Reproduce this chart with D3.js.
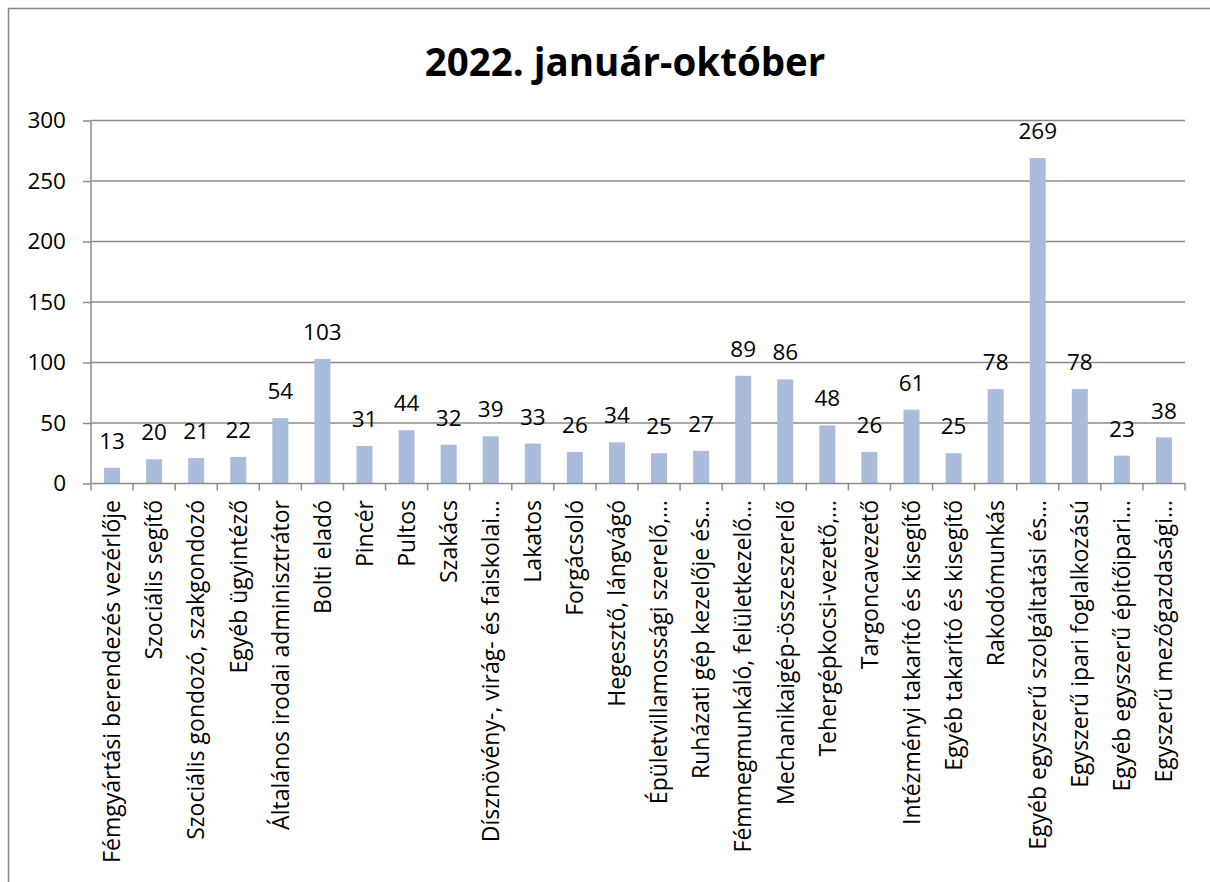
<!DOCTYPE html>
<html><head><meta charset="utf-8">
<script src="https://cdn.jsdelivr.net/npm/d3@7"></script>
<style>body{margin:0;background:#fff}svg{display:block}</style>
</head><body>
<svg id="c" width="1210" height="882"></svg>
<script>
const title = "2022. január-október";
const categories = [
  "Fémgyártási berendezés vezérlője",
  "Szociális segítő",
  "Szociális gondozó, szakgondozó",
  "Egyéb ügyintéző",
  "Általános irodai adminisztrátor",
  "Bolti eladó",
  "Pincér",
  "Pultos",
  "Szakács",
  "Dísznövény-, virág- és faiskolai…",
  "Lakatos",
  "Forgácsoló",
  "Hegesztő, lángvágó",
  "Épületvillamossági szerelő,…",
  "Ruházati gép kezelője és…",
  "Fémmegmunkáló, felületkezelő…",
  "Mechanikaigép-összeszerelő",
  "Tehergépkocsi-vezető,…",
  "Targoncavezető",
  "Intézményi takarító és kisegítő",
  "Egyéb takarító és kisegítő",
  "Rakodómunkás",
  "Egyéb egyszerű szolgáltatási és…",
  "Egyszerű ipari foglalkozású",
  "Egyéb egyszerű építőipari…",
  "Egyszerű mezőgazdasági…"
];
const values = [13,20,21,22,54,103,31,44,32,39,33,26,34,25,27,89,86,48,26,61,25,78,269,78,23,38];
const yTicks = [0,50,100,150,200,250,300];

(function(){
const svg = d3.select("#c");
const font = "'Open Sans', Lato, sans-serif";
const pL = 91, pR = 1185, pT = 120.5, pB = 483.5;

svg.append("rect").attr("x",8.5).attr("y",8.5).attr("width",1400).attr("height",1200)
  .attr("fill","none").attr("stroke","#868686").attr("stroke-width",1.5);

svg.append("text").attr("x",625).attr("y",76).attr("text-anchor","middle")
  .attr("font-family",font).attr("font-weight","bold").attr("font-size",38.5)
  .attr("fill","#000").text(title);

const x = d3.scaleBand().domain(categories).range([pL,pR]).paddingInner(0.62).paddingOuter(0.31);
const xb = d3.scaleBand().domain(categories).range([pL,pR]);
const y = d3.scaleLinear().domain([0,300]).range([pB,pT]);

svg.append("g").selectAll("line").data(yTicks.filter(d=>d>0)).join("line")
  .attr("x1",pL).attr("x2",pR).attr("y1",d=>y(d)).attr("y2",d=>y(d))
  .attr("stroke","#8c8c8c").attr("stroke-width",1.5);

const ya = svg.append("g").attr("transform",`translate(${pL},0)`)
  .call(d3.axisLeft(y).tickValues(yTicks).tickSize(8).tickPadding(17));
ya.select(".domain").attr("stroke","#8c8c8c").attr("stroke-width",1.5).attr("d",`M0,${pT}V${pB}`);
ya.selectAll(".tick line").attr("stroke","#8c8c8c").attr("stroke-width",1.5);
ya.selectAll(".tick text").attr("font-family",font).attr("font-size",22.5).attr("fill","#000");

svg.append("g").selectAll("rect").data(values).join("rect")
  .attr("x",(d,i)=>x(categories[i])).attr("width",x.bandwidth())
  .attr("y",d=>y(d)).attr("height",d=>pB-y(d)).attr("fill","#aabbdb");

const xa = svg.append("g").attr("transform",`translate(0,${pB})`);
xa.append("line").attr("x1",pL).attr("x2",pR).attr("stroke","#8c8c8c").attr("stroke-width",1.5);
const bounds = categories.map(c=>xb(c)).concat([pR]);
xa.selectAll("line.tk").data(bounds).join("line").attr("class","tk")
  .attr("x1",d=>d).attr("x2",d=>d).attr("y1",0).attr("y2",7)
  .attr("stroke","#8c8c8c").attr("stroke-width",1.5);

svg.append("g").selectAll("text").data(categories).join("text")
  .attr("transform",d=>`translate(${xb(d)+xb.bandwidth()/2},500) rotate(-90)`)
  .attr("text-anchor","end").attr("dy","0.36em")
  .attr("font-family",font).attr("font-size",23).attr("fill","#000").text(d=>d);

svg.append("g").selectAll("text").data(values).join("text")
  .attr("x",(d,i)=>xb(categories[i])+xb.bandwidth()/2).attr("y",d=>y(d)-19)
  .attr("text-anchor","middle").attr("font-family",font).attr("font-size",22.5)
  .attr("fill","#000").text(d=>d);
})();
</script>
</body></html>
